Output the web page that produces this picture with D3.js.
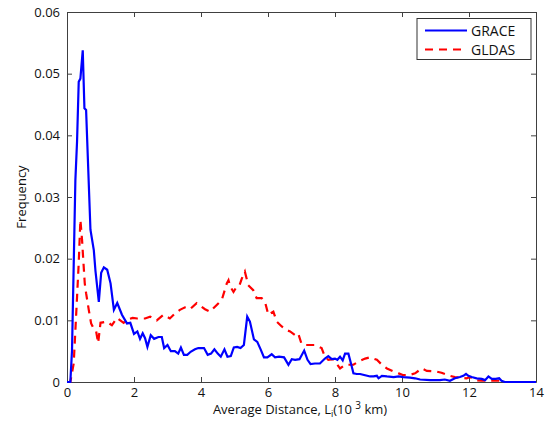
<!DOCTYPE html>
<html><head><meta charset="utf-8">
<script src="https://cdn.jsdelivr.net/npm/d3@7"></script>
<style>body{margin:0;background:#fff}text{font-family:"Open Sans",sans-serif}</style>
</head><body>
<svg id="c" width="547" height="428"></svg>
<script>
const graceX = [0,0.1,0.15,0.25,0.3,0.35,0.4,0.47,0.52,0.57,0.7,0.8,0.85,0.95,1.02,1.1,1.2,1.3,1.4,1.5,1.64,1.79,1.89,2.0,2.1,2.18,2.26,2.33,2.4,2.5,2.6,2.73,2.83,2.9,3.0,3.1,3.22,3.32,3.4,3.49,3.59,3.69,3.82,3.92,4.09,4.2,4.3,4.4,4.5,4.59,4.7,4.79,4.89,4.98,5.08,5.18,5.28,5.38,5.46,5.58,5.68,5.78,5.88,5.98,6.11,6.21,6.33,6.48,6.61,6.71,6.81,6.94,7.08,7.18,7.27,7.4,7.55,7.7,7.8,7.9,8.0,8.07,8.15,8.23,8.3,8.4,8.5,8.55,8.65,8.75,8.9,9.05,9.15,9.25,9.3,9.4,9.55,9.75,9.9,10.04,10.24,10.39,10.54,10.84,11.13,11.28,11.43,11.58,11.73,11.83,11.91,11.98,12.08,12.23,12.38,12.48,12.58,12.68,12.8,12.9,12.97,13.07,14];
const graceY = [0,0,0.0052,0.0327,0.039,0.0487,0.0492,0.0538,0.0444,0.0441,0.0247,0.0214,0.018,0.013,0.0177,0.0186,0.0182,0.016,0.0117,0.0128,0.0109,0.0095,0.0096,0.0078,0.0082,0.007,0.0079,0.0071,0.0057,0.0076,0.007,0.0073,0.0073,0.0055,0.006,0.005,0.005,0.0046,0.0056,0.0044,0.0044,0.0049,0.0053,0.0055,0.0055,0.0044,0.0046,0.0053,0.0046,0.0041,0.0053,0.0041,0.0042,0.0056,0.0057,0.0055,0.006,0.0106,0.0098,0.0069,0.0065,0.0053,0.004,0.004,0.0045,0.004,0.0041,0.004,0.0028,0.0037,0.0036,0.0037,0.0051,0.0036,0.0029,0.003,0.003,0.0038,0.0042,0.0037,0.0038,0.0036,0.0041,0.0035,0.0046,0.0046,0.0025,0.0014,0.0013,0.0013,0.0011,0.0009,0.0009,0.001,0.0006,0.001,0.0009,0.0008,0.0009,0.0008,0.0007,0.0006,0.0004,0.0003,0.0003,0.0004,0.0002,0.0006,0.0008,0.001,0.0013,0.001,0.0008,0.0006,0.0005,0.0003,0.0009,0.0005,0.0005,0.0006,0.0002,0,0];
const gldasX = [0,0.1,0.2,0.3,0.35,0.4,0.45,0.48,0.53,0.57,0.65,0.72,0.82,0.87,0.93,1.0,1.19,1.34,1.49,1.69,1.79,1.96,2.1,2.33,2.48,2.68,2.88,3.07,3.22,3.37,3.52,3.67,3.87,4.12,4.27,4.47,4.62,4.77,4.82,4.87,4.97,5.07,5.15,5.22,5.31,5.41,5.56,5.66,5.81,5.91,6.01,6.16,6.26,6.41,6.56,6.66,6.81,6.9,7.0,7.1,7.4,7.6,7.7,7.8,7.95,8.15,8.3,8.55,8.7,8.9,9.05,9.25,9.4,9.55,9.75,9.9,10.04,10.19,10.39,10.59,10.74,11.03,11.18,11.43,11.58,11.93,12.03,12.18,12.38,12.53,12.93,13.07,14];
const gldasY = [0,0,0.003,0.0138,0.0193,0.0263,0.023,0.0203,0.016,0.0144,0.0117,0.0095,0.0084,0.0082,0.0063,0.0096,0.0098,0.0092,0.0104,0.0096,0.0101,0.0104,0.0103,0.0103,0.0106,0.01,0.0109,0.0103,0.0111,0.0117,0.0121,0.0118,0.0128,0.0118,0.0114,0.0125,0.0133,0.016,0.0165,0.0155,0.0146,0.0155,0.0157,0.0168,0.0179,0.0157,0.0149,0.0136,0.0136,0.013,0.0109,0.0114,0.0098,0.009,0.0084,0.0082,0.0076,0.0079,0.0062,0.006,0.006,0.0055,0.0041,0.0036,0.0037,0.0022,0.0028,0.0028,0.0033,0.0038,0.004,0.0036,0.0028,0.0022,0.0017,0.0014,0.0011,0.0011,0.0014,0.0022,0.0018,0.0017,0.0015,0.001,0.0008,0.0006,0.0008,0.0003,0.0002,0.0002,0.0002,0,0];
const xTicks = [0,2,4,6,8,10,12,14];
const yTicks = [0,0.01,0.02,0.03,0.04,0.05,0.06];
const seriesNames = ["GRACE","GLDAS"];

const svg = d3.select("#c");
const L=67,R=536,T=12,B=382;
const x = d3.scaleLinear().domain([0,14]).range([L,R]);
const y = d3.scaleLinear().domain([0,0.06]).range([B,T]);
const axisCol="#404040";

const gB = svg.append("g").attr("transform",`translate(0,${B})`)
  .call(d3.axisBottom(x).tickValues(xTicks).tickSizeInner(-5).tickSizeOuter(0).tickPadding(6).tickFormat(d3.format("d")));
const gT = svg.append("g").attr("transform",`translate(0,${T})`)
  .call(d3.axisTop(x).tickValues(xTicks).tickSizeInner(-5).tickSizeOuter(0).tickFormat(""));
const gL = svg.append("g").attr("transform",`translate(${L},0)`)
  .call(d3.axisLeft(y).tickValues(yTicks).tickSizeInner(-5).tickSizeOuter(0).tickPadding(7).tickFormat(d=>d===0?"0":d3.format(".2f")(d)));
const gR = svg.append("g").attr("transform",`translate(${R},0)`)
  .call(d3.axisRight(y).tickValues(yTicks).tickSizeInner(-5).tickSizeOuter(0).tickFormat(""));
[gB,gT,gL,gR].forEach(g=>{
  g.selectAll("path").attr("stroke",axisCol).attr("stroke-width",1);
  g.selectAll("line").attr("stroke",axisCol);
  g.selectAll("text").attr("font-size",13).attr("fill","#111").style("font-family","'Open Sans',sans-serif");
});

const line = d3.line().x(d=>x(d[0])).y(d=>y(d[1]));
const grace = graceX.map((v,i)=>[v,graceY[i]]);
const gldas = gldasX.map((v,i)=>[v,gldasY[i]]);
svg.append("path").datum(gldas).attr("d",line).attr("fill","none").attr("stroke","#ff0000").attr("stroke-width",2.2).attr("stroke-dasharray","8,6");
svg.append("path").datum(grace).attr("d",line).attr("fill","none").attr("stroke","#0000ff").attr("stroke-width",2.2);

const lg = svg.append("g");
lg.append("rect").attr("x",417).attr("y",18.5).attr("width",114).attr("height",41).attr("fill","#fff").attr("stroke","#333").attr("stroke-width",1);
const cols=["#0000ff","#ff0000"], dashes=[null,"8,6"];
seriesNames.forEach((n,i)=>{
  const yy = 30.5+i*19;
  lg.append("line").attr("x1",425).attr("x2",467).attr("y1",yy).attr("y2",yy).attr("stroke",cols[i]).attr("stroke-width",2.2).attr("stroke-dasharray",dashes[i]);
  lg.append("text").attr("x",471).attr("y",yy+5).attr("font-size",14).attr("fill","#111").text(n);
});

const xl = svg.append("text").attr("x",300).attr("y",414).attr("text-anchor","middle").attr("font-size",13).attr("fill","#111");
xl.append("tspan").text("Average Distance, L");
xl.append("tspan").attr("font-size",9).attr("dy",3).text("i");
xl.append("tspan").attr("dy",-3).text("(10 ");
xl.append("tspan").attr("font-size",10).attr("dy",-5).text("3");
xl.append("tspan").attr("dy",5).text(" km)");
svg.append("text").attr("transform","translate(26,197) rotate(-90)").attr("text-anchor","middle").attr("font-size",13).attr("fill","#111").text("Frequency");
</script>
</body></html>
